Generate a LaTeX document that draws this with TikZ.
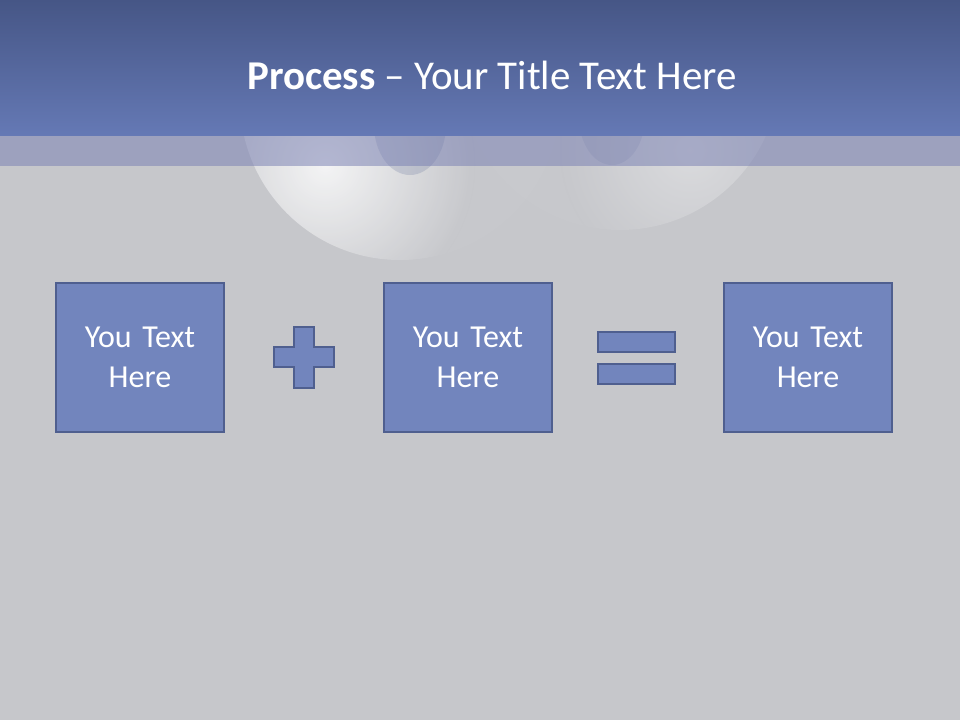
\documentclass[tikz,border=0pt]{standalone}
\usepackage{fontspec}
\setmainfont{Carlito}
\usetikzlibrary{positioning}
\definecolor{slidebg}{HTML}{C6C7CB}
\definecolor{headtop}{HTML}{465686}
\definecolor{headbot}{HTML}{6579B5}
\definecolor{boxfill}{HTML}{7285BD}
\definecolor{boxline}{HTML}{4F5F8F}
\definecolor{strip}{HTML}{7A81B3}

\begin{document}
\begin{tikzpicture}[
    x=0.75pt, y=-0.75pt,
    textbox/.style={draw=boxline, fill=boxfill, line width=1.6pt, minimum width=168*0.75pt, minimum height=149*0.75pt, text width=150*0.75pt, align=center, font=\fontsize{24}{30}\selectfont, text=white, inner sep=0pt},
    signpart/.style={draw=boxline, fill=boxfill, line width=1.6pt},
    glow/.style={inner color=white, outer color=slidebg, opacity=#1},
]

% Background
\fill[slidebg] (0,0) rectangle (960,720);
\useasboundingbox (0,0) rectangle (960,720);

% Glowing discs behind the header
\fill[white, opacity=0.03] (400,100) circle (160);
\begin{scope}
    \clip (400,100) circle (160);
    \shade[glow=0.8] (325,165) circle (150);
\end{scope}
\fill[white, opacity=0.02] (620,70) circle (160);
\begin{scope}
    \clip (620,70) circle (160);
    \shade[glow=0.35] (690,150) circle (130);
\end{scope}
\fill[boxline, opacity=0.2] (410,125) ellipse (36 and 50);
\fill[boxline, opacity=0.14] (612,117) ellipse (33 and 48);

% Header band
\shade[top color=headtop, bottom color=headbot] (0,0) rectangle (960,136);
\fill[strip, opacity=0.53] (0,136) rectangle (960,166);

% Title
\node[text=white, font=\fontsize{30.7}{36}\selectfont] (title) at (492,75)
    {\textbf{Process} -- Your Title Text Here};

% Boxes
\node[textbox] (box1) at (140,357.5) {You Text\\Here};
\node[textbox] (box2) at (468,357.5) {You Text\\Here};
\node[textbox] (box3) at (808,357.5) {You Text\\Here};

% Plus sign
\draw[signpart] (294,327) -- (314,327) -- (314,347) -- (334,347) -- (334,367)
    -- (314,367) -- (314,388) -- (294,388) -- (294,367) -- (274,367)
    -- (274,347) -- (294,347) -- cycle;
\coordinate (plus) at (304,357.5);

% Equals sign
\node[signpart, minimum width=77*0.75pt, minimum height=20*0.75pt, inner sep=0pt] (eqtop) at (636.5,342) {};
\node[signpart, minimum width=77*0.75pt, minimum height=20*0.75pt, inner sep=0pt, below=10*0.75pt of eqtop] (eqbot) {};

\end{tikzpicture}
\end{document}
